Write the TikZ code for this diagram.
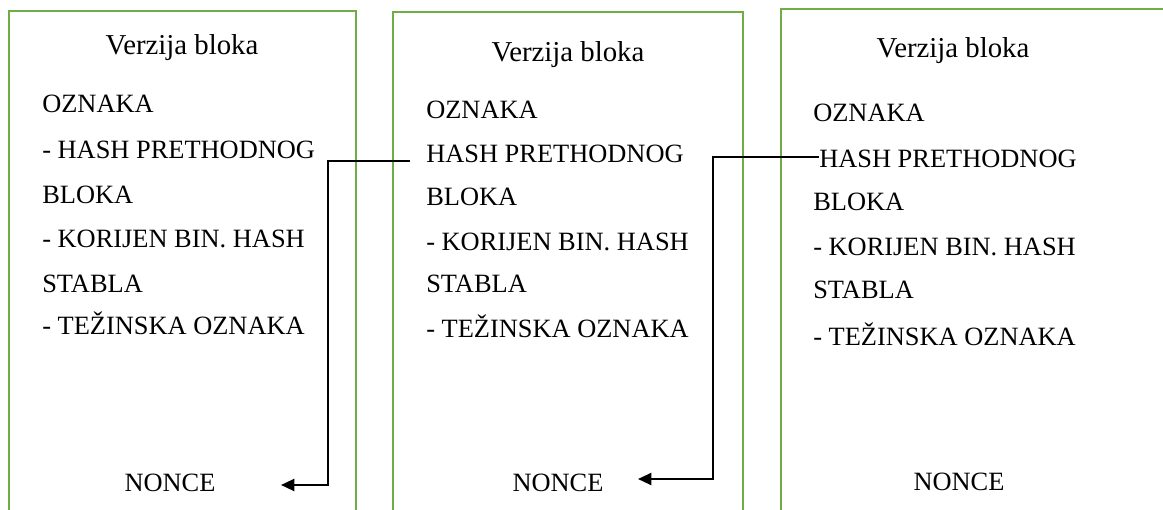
\documentclass[tikz,border=0pt]{standalone}
\usepackage{fontspec}
\setmainfont{Liberation Serif}
\usetikzlibrary{arrows.meta}

\definecolor{blockgreen}{RGB}{112,173,71}

\begin{document}
\begin{tikzpicture}[x=0.75pt, y=-0.75pt,
	blok/.style={draw=blockgreen, line width=2pt},
	naslov/.style={anchor=base, inner sep=0pt, font=\fontsize{21.6}{26}\selectfont},
	redak/.style={anchor=base west, inner sep=0pt, font=\fontsize{19.8}{24}\selectfont},
	nonce/.style={anchor=base, inner sep=0pt, font=\fontsize{19.8}{24}\selectfont},
	veza/.style={draw=black, line width=1.6pt, -{Triangle[length=10pt,width=9pt]}}]

	\clip (0,0) rectangle (1163,510);

	% blok 1
	\draw[blok] (9,530) |- (356,11) -- (356,530);
	\node[naslov] (v1) at (182,55) {Verzija bloka};
	\node[redak] (o1) at (42,113) {OZNAKA};
	\node[redak] (h1) at (42,158) {- HASH PRETHODNOG};
	\node[redak] (b1) at (42,203) {BLOKA};
	\node[redak] (k1) at (42,247) {- KORIJEN BIN. HASH};
	\node[redak] (s1) at (42,292) {STABLA};
	\node[redak] (t1) at (42,334) {- TEŽINSKA OZNAKA};
	\node[nonce] (n1) at (170,491) {NONCE};

	% blok 2
	\draw[blok] (393,530) |- (743,12) -- (743,530);
	\node[naslov] (v2) at (568,62) {Verzija bloka};
	\node[redak] (o2) at (426,118) {OZNAKA};
	\node[redak] (h2) at (426,162) {HASH PRETHODNOG};
	\node[redak] (b2) at (426,205) {BLOKA};
	\node[redak] (k2) at (426,250) {- KORIJEN BIN. HASH};
	\node[redak] (s2) at (426,292) {STABLA};
	\node[redak] (t2) at (426,337) {- TEŽINSKA OZNAKA};
	\node[nonce] (n2) at (558,491) {NONCE};

	% blok 3
	\draw[blok] (781,530) |- (1180,9);
	\node[naslov] (v3) at (953,58) {Verzija bloka};
	\node[redak] (o3) at (813,122) {OZNAKA};
	\node[redak] (h3) at (819,167) {HASH PRETHODNOG};
	\node[redak] (b3) at (813,210) {BLOKA};
	\node[redak] (k3) at (813,255) {- KORIJEN BIN. HASH};
	\node[redak] (s3) at (813,298) {STABLA};
	\node[redak] (t3) at (813,345) {- TEŽINSKA OZNAKA};
	\node[nonce] (n3) at (959,490) {NONCE};

	% veze
	\coordinate (p2) at (410,161);
	\coordinate (r1) at (328,485);
	\coordinate (c1) at (281,485);
	\draw[veza] (p2) -| (r1) -- (c1);

	\coordinate (p3) at (819,157);
	\coordinate (r2) at (713,479);
	\coordinate (c2) at (638,479);
	\draw[veza] (p3) -| (r2) -- (c2);

\end{tikzpicture}
\end{document}
